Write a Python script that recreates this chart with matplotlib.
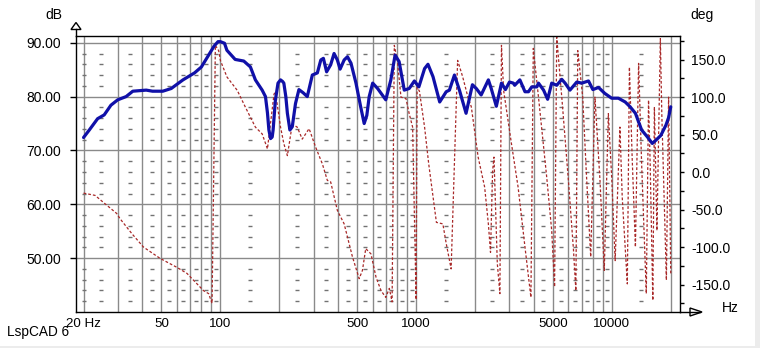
import matplotlib
matplotlib.use('Agg')
import matplotlib.pyplot as plt
import numpy as np
from matplotlib.patches import Polygon, Rectangle
from matplotlib.lines import Line2D

# SPL response (Hz, dB)
spl_freq = [20, 21.4, 23.6, 25.5, 27.6, 29.9, 33.0, 35.7, 41.8, 45, 50.8, 56.1, 64.4, 73.8,
            80.0, 88.1, 93, 97.3, 100, 105, 108, 119, 131.7, 142.4, 151, 163.5, 170, 174,
            177, 180.5, 184, 186, 191, 197, 203, 208, 211, 216, 220, 226.6, 233, 242, 252,
            265, 278, 295, 313, 326, 336, 349, 366, 381, 396, 409, 429, 446, 465, 493, 521,
            543, 560, 576, 600, 636, 700, 743, 781, 819, 870, 922, 980, 1033, 1105, 1150,
            1220, 1320, 1425, 1480, 1570, 1665, 1800, 1940, 2030, 2150, 2340, 2420, 2570,
            2730, 2860, 3000, 3140, 3190, 3390, 3600, 3750, 3900, 4140, 4220, 4480, 4700,
            4930, 5230, 5550, 5770, 6110, 6620, 7020, 7600, 8000, 8550, 9200, 9980, 10800,
            11700, 12400, 13200, 13700, 14200, 15200, 16100, 16800, 17800, 18900, 19500, 20000]
spl_db = [72.4, 73.8, 75.9, 76.6, 78.4, 79.4, 80.0, 81.0, 81.2, 81.0, 81.0, 81.5, 83.1, 84.4,
          85.5, 88.0, 89.4, 90.2, 90.2, 89.9, 88.6, 86.9, 86.6, 85.5, 83.1, 81.2, 80.0, 77.0,
          73.8, 72.2, 72.5, 73.8, 79.3, 82.5, 83.1, 82.8, 82.5, 80.0, 76.9, 73.8, 74.4, 78.7, 81.3,
          80.7, 80.0, 84.0, 84.4, 86.8, 87.1, 84.6, 85.9, 88.0, 86.8, 85.1, 86.8, 87.4, 86.2, 82.5, 78.1,
          75.0, 76.5, 80.0, 82.5, 81.5, 79.4, 83.1, 87.7, 86.5, 81.2, 81.5, 82.9, 81.8, 85.2, 86.0,
          83.7, 79.0, 80.9, 81.2, 84.0, 81.2, 76.9, 82.2, 81.5, 80.3, 83.1, 81.5, 78.2,
          82.5, 81.3, 82.7, 82.5, 82.1, 83.1, 80.9, 80.9, 81.8, 81.8, 82.5, 81.2, 79.5,
          82.5, 82.1, 83.2, 82.5, 81.2, 82.7, 82.5, 82.9, 81.3, 81.7, 80.6, 79.7, 79.7,
          79.0, 78.1, 76.9, 75.3, 73.8, 72.5, 71.3, 71.9, 72.8, 74.7, 76.1, 78.1]

# Wrapped phase (Hz, deg)
ph_freq = [20, 22.9, 25.7, 29.5, 30.7, 35.3, 40.5, 49.2, 60, 67.5, 76, 82, 87.1, 90.7, 94.3,
           98, 100, 108, 122, 134, 151, 163.5, 174, 188, 191, 203, 211, 220, 233, 247, 262,
           284, 307, 332, 352, 366, 396, 429, 473, 512, 532, 553, 588, 624, 662, 700, 730,
           754, 774, 802, 837, 888, 922, 960, 1000, 1012, 1040, 1105, 1160, 1270, 1370, 1425,
           1510, 1630, 1730, 1840, 1915, 2075, 2240, 2340, 2400, 2460, 2500, 2600, 2680, 2730,
           2800, 3070, 3320, 3600, 3860, 3970, 4220, 4650, 4930, 5100, 5230, 5550, 6000, 6370,
           6550, 6700, 7100, 7400, 7800, 8200, 8700, 9150, 9600, 10000, 10400, 11000, 11300,
           12000, 12300, 12700, 13200, 13700, 14200, 15000, 15400, 15700, 16200, 16500, 17000,
           17700, 18000, 18700, 19000, 19500, 20000]
ph_deg = [-28, -31, -42, -55, -62, -82, -100, -115, -127, -135, -149, -158, -162, -175, 169,
          162, 149, 127, 109, 87, 60, 51, 31, 104, 107, 60, 38, 22, 64, 60, 44,
          58, 33, 11, -11, -13, -51, -69, -113, -142, -131, -102, -109, -140, -158, -167, -155,
          -173, 169, 149, 100, 98, 78, 60, -170, 113, 108, 60, 11, -67, -69, -95,
          -129, 149, 127, 100, 87, 20, -20, -69, -107, 2, 20, -122, -162, 169,
          109, 38, -20, -100, -167, 165, 100, -7, -78, -153, 180, 100, -11, -104,
          -158, 162, 100, 2, -113, 100, -11, -131, 78, -11, -118, 60, -33,
          -149, 140, 20, -100, 145, 11, -162, 96, 11, -171, 87, -78,
          178, 78, -78, -144, 100, -135]

grid_freq = [20, 30, 40, 50, 60, 70, 80, 90, 100, 200, 300, 400, 500, 600, 700, 800, 900,
             1000, 2000, 3000, 4000, 5000, 6000, 7000, 8000, 9000, 10000, 20000]
x_ticks = [20, 50, 100, 500, 1000, 5000, 10000]
x_labels = ['20 Hz', '50', '100', '500', '1000', '5000', '10000']
db_ticks = [50, 60, 70, 80, 90]
db_labels = ['50.00', '60.00', '70.00', '80.00', '90.00']
deg_ticks = [-150, -100, -50, 0, 50, 100, 150]
deg_labels = ['-150.0', '-100.0', '-50.0', '0.0', '50.0', '100.0', '150.0']

W, H = 760, 348
XLIM = (18.3, 22300)
DBLIM = (40, 91.25)
DEGLIM = (-186.5, 181.5)
BLUE = '#1010a8'
RED = '#a82828'
GRID = '#8a8a8a'


def fx(px):
    return px / W


def fy(py):
    return 1 - py / H


plt.rcParams['font.family'] = ['Liberation Sans', 'DejaVu Sans']
plt.rcParams['font.size'] = 10

fig = plt.figure(figsize=(W / 100, H / 100), dpi=100)
pos = [fx(76), fy(312), fx(680) - fx(76), fy(36) - fy(312)]

# grid layer, phase layer, SPL layer
bg = fig.add_axes(pos, zorder=1)
ax2 = fig.add_axes(pos, zorder=2)
ax = fig.add_axes(pos, zorder=3)

for a in (bg, ax2, ax):
    a.set_xscale('log')
    a.set_xlim(*XLIM)
    a.minorticks_off()
ax.patch.set_visible(False)
ax2.patch.set_visible(False)

bg.set_ylim(*DBLIM)
for s in bg.spines.values():
    s.set_visible(False)
bg.set_xticks([])
bg.set_yticks([])
for f in grid_freq:
    bg.axvline(f, color=GRID, lw=1)
for d in db_ticks:
    bg.axhline(d, color=GRID, lw=1)

# short dashes for the 2 dB steps, between the vertical lines
g = np.array(grid_freq, dtype=float)
mids = np.concatenate([[g[0]], np.sqrt(g[:-1] * g[1:])])
for lvl in range(42, 90, 2):
    if lvl % 10 == 0:
        continue
    bg.plot(mids, [lvl] * len(mids), ls='none', marker='_', ms=3.2, mew=1, color='#727272')

# phase
ax2.plot(ph_freq, ph_deg, color=RED, lw=0.9, dashes=(2.2, 1.6))
ax2.set_ylim(*DEGLIM)
ax2.yaxis.tick_right()
ax2.set_yticks(deg_ticks, deg_labels)
ax2.set_yticks(np.arange(-175, 180, 50), minor=True)
ax2.tick_params(axis='y', which='both', direction='out', length=3, width=1, pad=5, colors='black')
ax2.set_xticks([])
for s in ax2.spines.values():
    s.set_visible(False)

# SPL
ax.plot(spl_freq, spl_db, color=BLUE, lw=2.3, solid_joinstyle='round', solid_capstyle='round')
ax.set_ylim(*DBLIM)
ax.set_yticks(db_ticks, db_labels)
ax.set_xticks(x_ticks, x_labels)
ax.tick_params(axis='y', direction='out', length=4, width=1, pad=7)
ax.tick_params(axis='x', length=0, pad=4, labelsize=9.6)
for s in ax.spines.values():
    s.set_color('black')
    s.set_linewidth(1)

# axis arrows
fig.add_artist(Line2D([fx(76), fx(76)], [fy(36), fy(29)], color='black', lw=1))
fig.add_artist(Polygon([[fx(76), fy(22.5)], [fx(71), fy(29.5)], [fx(81), fy(29.5)]],
                       closed=True, facecolor='white', edgecolor='black', lw=1))
fig.add_artist(Line2D([fx(680), fx(700)], [fy(312), fy(312)], color='black', lw=1))
fig.add_artist(Polygon([[fx(702), fy(312)], [fx(690), fy(308)], [fx(690), fy(316)]],
                       closed=True, facecolor='white', edgecolor='black', lw=1))

fig.text(fx(54), fy(15), 'dB', ha='center', va='center')
fig.text(fx(702), fy(15), 'deg', ha='center', va='center')
fig.text(fx(730), fy(308), 'Hz', ha='center', va='center')
fig.text(fx(7), fy(336), 'LspCAD 6', ha='left', va='baseline', fontsize=9.8, zorder=0.5)

# light window border
fig.add_artist(Rectangle((0, 0), 1, fy(346), transform=fig.transFigure,
                         facecolor='#ececec', edgecolor='none', zorder=0))
fig.add_artist(Rectangle((fx(755), 0), 1, 1, transform=fig.transFigure,
                         facecolor='#ececec', edgecolor='none', zorder=0))

fig.savefig('out.png', dpi=100)
